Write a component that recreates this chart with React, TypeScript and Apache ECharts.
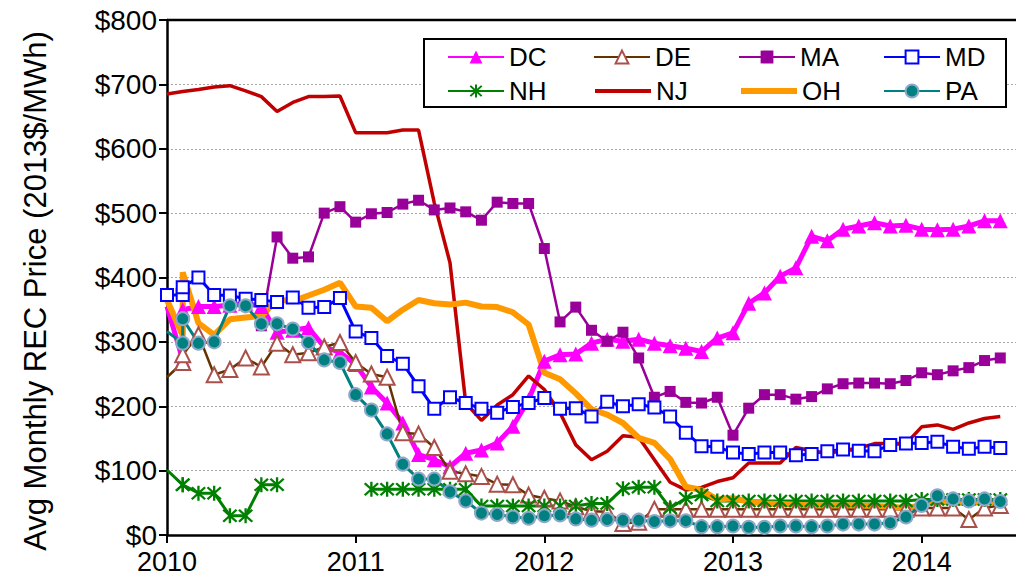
import React, { useEffect, useRef } from "react";
import * as echarts from "echarts";

// Month index: 0 = Jan 2010 ... 53 = Jun 2014 (Feb 2010 appears twice in the data)
const months: number[] = [0, 1, 1, 2, 3, 4, 5, 6, 7, 8, 9, 10, 11, 12, 13, 14, 15, 16, 17, 18, 19, 20, 21, 22, 23, 24, 25, 26, 27, 28, 29, 30, 31, 32, 33, 34, 35, 36, 37, 38, 39, 40, 41, 42, 43, 44, 45, 46, 47, 48, 49, 50, 51, 52, 53];
const yearTicks = ["2010", "2011", "2012", "2013", "2014"];
const seriesNames = ["DC", "DE", "MA", "MD", "NH", "NJ", "OH", "PA"];

const DC = [355,272,350,355,355,357,360,355,315,318,322,292,284,265,230,205,174,125,117,106,127,132,143,169,210,270,280,281,298,304,301,304,298,294,290,285,306,314,360,376,402,415,464,457,475,480,485,480,481,475,474,475,480,488,488];
const DE = [245,268,280,311,249,257,275,261,298,280,283,292,299,268,250,245,159,157,136,99,95,91,79,78,62,57,53,44,37,36,18,20,40,40,40,40,40,40,40,40,40,40,40,40,40,40,40,40,40,42,42,42,24,42,46];
const MA = [null,null,null,null,null,null,null,325,463,430,432,500,510,486,499,501,514,520,505,508,502,489,517,515,515,445,331,354,318,301,315,275,214,223,206,205,214,155,197,218,218,211,215,227,235,236,236,235,240,252,249,255,260,271,275];
const MD = [373,373,385,400,373,372,367,365,362,369,353,354,368,316,306,278,266,231,196,214,205,196,190,199,205,213,196,197,184,207,200,203,198,184,159,138,137,128,126,128,128,124,126,130,133,131,130,140,142,143,145,137,134,137,135];
const NH = [101,78,78,65,65,30,30,78,78,null,null,null,null,null,71,71,71,71,71,71,71,45,45,45,45,45,45,45,49,49,72,74,74,42,57,62,53,53,53,53,53,53,53,53,53,53,53,53,53,55,55,55,55,55,55];
const NJ = [685,689,689,692,696,698,690,681,658,672,681,681,682,625,625,625,629,629,516,423,205,178,202,218,247,226,190,140,117,130,154,152,117,82,70,74,83,89,112,112,112,136,131,127,131,135,142,142,142,168,171,164,174,181,184];
const OH = [365,310,408,329,311,335,338,340,366,363,372,381,392,355,353,332,350,365,360,358,361,355,354,346,327,252,242,220,195,187,174,151,143,118,75,70,55,57,52,49,48,47,46,46,46,46,45,44,42,46,52,50,50,51,52];
const PA = [316,298,336,298,300,356,356,328,328,320,299,272,268,218,194,157,110,87,87,67,53,34,32,28,26,30,31,25,23,24,23,23,21,22,22,13,13,14,12,12,14,14,13,14,17,17,17,19,28,46,61,56,53,56,52];

const FONT = "Liberation Sans, Arial, sans-serif";
const ASTERISK =
  "path://M8.6,0 L11.4,0 L11.4,20 L8.6,20 Z M1,3 L3,1 L19,17 L17,19 Z M17,1 L19,3 L3,19 L1,17 Z";

const COLORS: Record<string, string> = {
  DC: "#FF00FF", DE: "#663300", MA: "#990099", MD: "#0000FF",
  NH: "#008000", NJ: "#C00000", OH: "#FF9900", PA: "#008080",
};
const WIDTHS: Record<string, number> = {
  DC: 5, DE: 2.5, MA: 2.5, MD: 3, NH: 3, NJ: 4, OH: 6, PA: 3,
};

function pairs(vals: (number | null)[], hideFirstMarker = false) {
  return months.map((m, i) => {
    const v = vals[i] == null ? null : vals[i];
    if (i === 0 && hideFirstMarker) return { value: [m, v], symbol: "none" };
    return [m, v];
  });
}

export default function App() {
  const ref = useRef<HTMLDivElement>(null);
  useEffect(() => {
    document.body.style.margin = "0";
    const chart = echarts.init(ref.current!, null, { renderer: "svg" });
    const base = { type: "line", showSymbol: true, connectNulls: false, z: 2 };
    const legendPos: [number, number][] = [
      [447, 44], [593, 44], [738, 44], [883, 44],
      [447, 78], [593, 78], [738, 78], [883, 78],
    ];
    const lineOnly = ["NJ", "OH"];
    chart.setOption({
      animation: false,
      backgroundColor: "#fff",
      grid: { left: 167, top: 20, width: 853, height: 515, containLabel: false },
      xAxis: {
        type: "value",
        min: 0,
        max: 54,
        interval: 12,
        axisLine: { lineStyle: { color: "#000", width: 2.5 } },
        axisTick: { show: true, length: 8, lineStyle: { color: "#000", width: 2 } },
        axisLabel: {
          margin: 16,
          fontSize: 27,
          lineHeight: 22,
          fontFamily: FONT,
          color: "#000",
          showMaxLabel: false,
          formatter: (v: number) => (v % 12 === 0 ? yearTicks[v / 12] ?? "" : ""),
        },
        splitLine: { show: false },
      },
      yAxis: {
        type: "value",
        min: 0,
        max: 800,
        interval: 100,
        axisLine: { show: true, lineStyle: { color: "#000", width: 2.5 } },
        axisTick: { show: true, length: 8, lineStyle: { color: "#000", width: 2 } },
        axisLabel: {
          margin: 10,
          fontSize: 28,
          lineHeight: 20,
          fontFamily: FONT,
          color: "#000",
          formatter: (v: number) => "$" + v,
        },
        splitLine: { show: true, lineStyle: { color: "#a6a6a6", width: 1, type: [2, 2] } },
      },
      legend: seriesNames.map((n, i) => ({
        data: [n],
        left: legendPos[i][0],
        top: legendPos[i][1],
        padding: 0,
        z: 10,
        itemWidth: 56,
        itemHeight: 16,
        itemGap: 0,
        selectedMode: false,
        ...(lineOnly.includes(n)
          ? { itemStyle: { opacity: 0 }, lineStyle: { color: COLORS[n], width: WIDTHS[n], opacity: 1 } }
          : {}),
        textStyle: { fontSize: 26, fontFamily: FONT, color: "#000", lineHeight: 25 },
      })),
      graphic: [
        { type: "line", shape: { x1: 167, y1: 20, x2: 1016, y2: 20 }, style: { stroke: "#000", lineWidth: 2.5 }, z: 10 },
        { type: "rect", shape: { x: 424, y: 39, width: 582, height: 68 }, style: { fill: "#fff", stroke: "#000", lineWidth: 2 }, z: 5 },
        {
          type: "text",
          x: 35,
          y: 291,
          rotation: Math.PI / 2,
          style: {
            text: "Avg Monthly REC Price (2013$/MWh)",
            fontSize: 31,
            fontFamily: FONT,
            fill: "#000",
            align: "center",
            verticalAlign: "middle",
          },
        },
      ],
      series: [
        { ...base, name: "DC", data: pairs(DC, true), symbol: "triangle", symbolSize: 15,
          lineStyle: { color: COLORS.DC, width: WIDTHS.DC }, itemStyle: { color: "#FF00FF" } },
        { ...base, name: "DE", data: pairs(DE, true), symbol: "triangle", symbolSize: 15,
          lineStyle: { color: COLORS.DE, width: WIDTHS.DE }, itemStyle: { color: "#fff", borderColor: "#A9504B", borderWidth: 2 } },
        { ...base, name: "MA", data: pairs(MA), symbol: "rect", symbolSize: 11,
          lineStyle: { color: COLORS.MA, width: WIDTHS.MA }, itemStyle: { color: "#990099" } },
        { ...base, name: "MD", data: pairs(MD), symbol: "rect", symbolSize: 12,
          lineStyle: { color: COLORS.MD, width: WIDTHS.MD }, itemStyle: { color: "#fff", borderColor: "#0000FF", borderWidth: 2 } },
        { ...base, name: "NH", data: pairs(NH, true), symbol: ASTERISK, symbolSize: 15,
          lineStyle: { color: COLORS.NH, width: WIDTHS.NH }, itemStyle: { color: "#008000" } },
        { ...base, name: "NJ", data: pairs(NJ), symbol: "none", showSymbol: false,
          lineStyle: { color: COLORS.NJ, width: 3.5 }, itemStyle: { color: "#C00000" } },
        { ...base, name: "OH", data: pairs(OH), symbol: "none", showSymbol: false,
          lineStyle: { color: COLORS.OH, width: WIDTHS.OH }, itemStyle: { color: "#FF9900" } },
        { ...base, name: "PA", data: pairs(PA, true), symbol: "circle", symbolSize: 13,
          lineStyle: { color: COLORS.PA, width: WIDTHS.PA }, itemStyle: { color: "#008080", borderColor: "#8EA9C8", borderWidth: 2 } },
      ],
    });
    return () => chart.dispose();
  }, []);
  return <div ref={ref} style={{ width: 1016, height: 582 }} />;
}
